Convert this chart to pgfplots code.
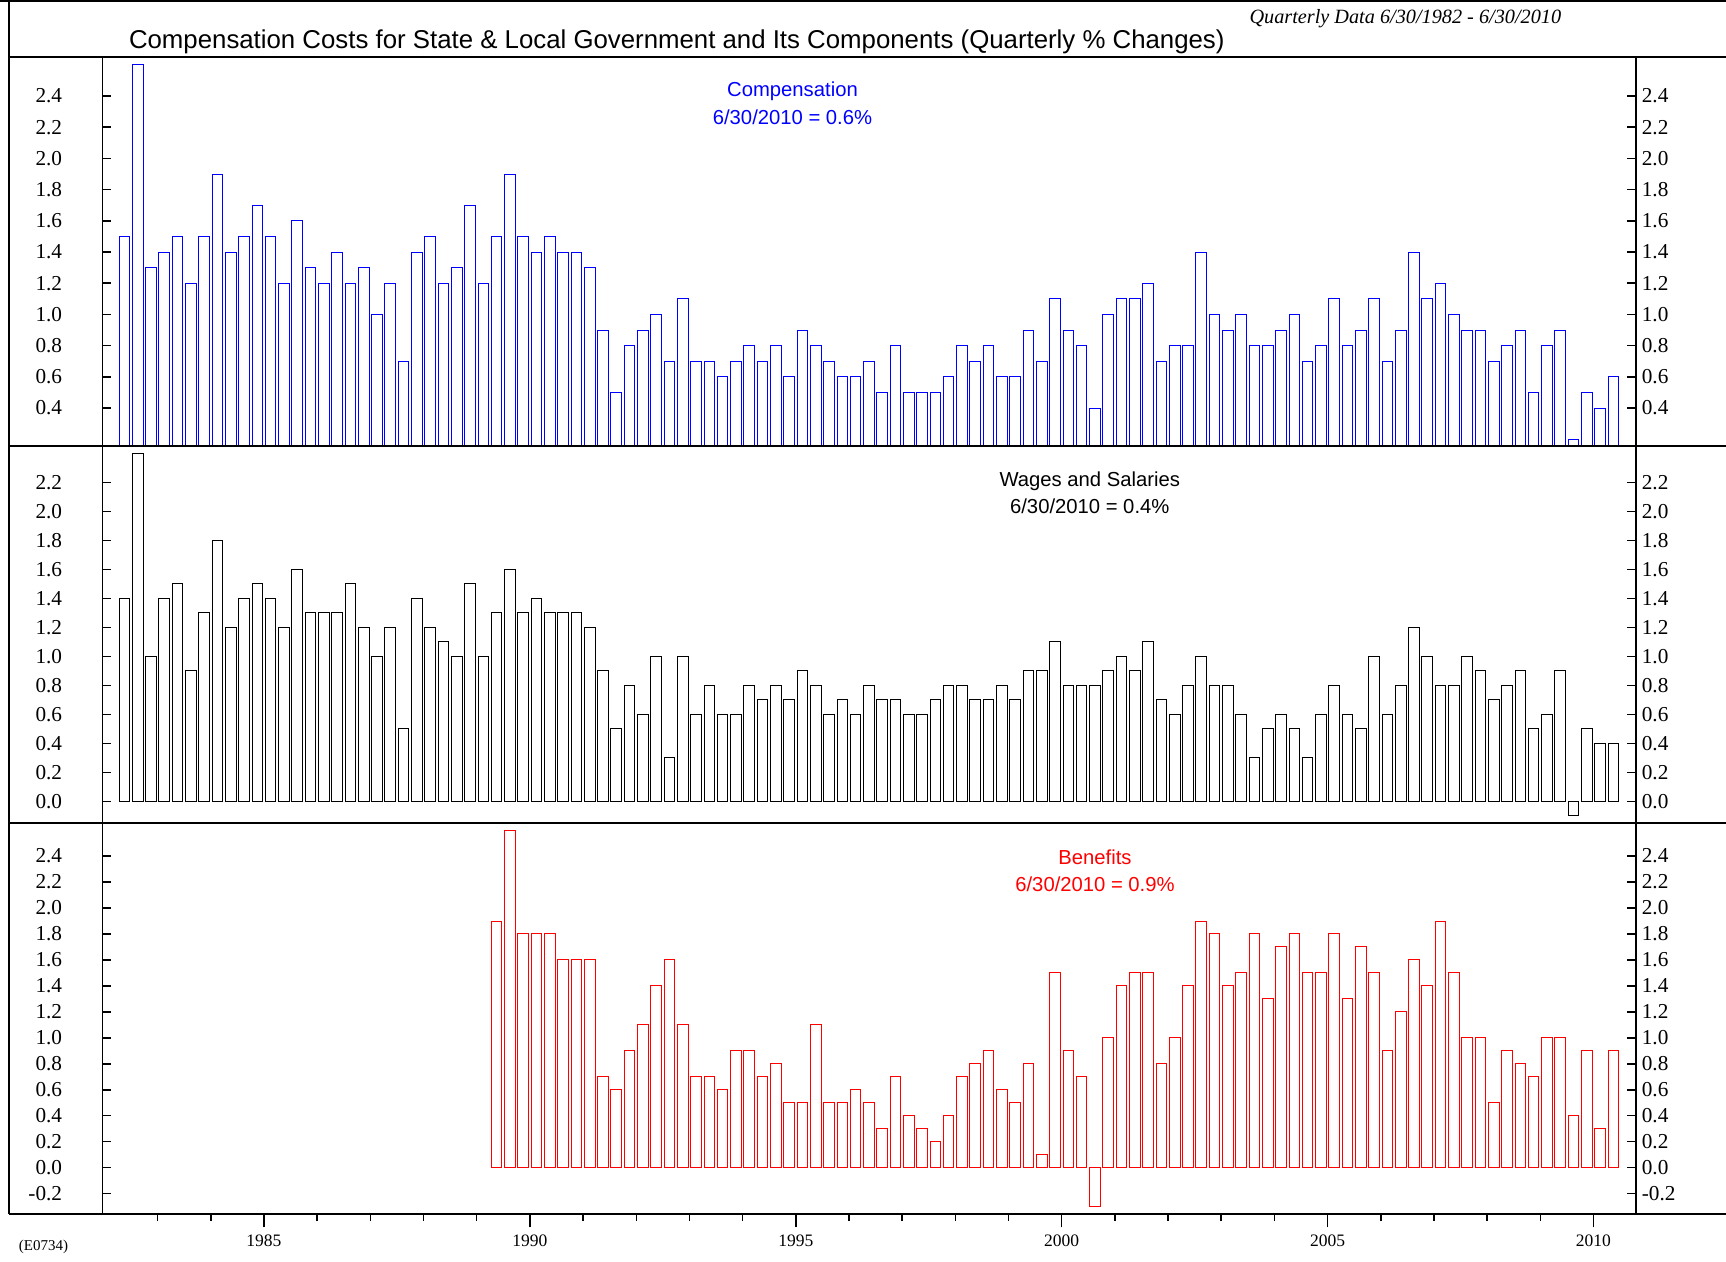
\documentclass[border=0pt]{standalone}
\usepackage{pgfplots}
\pgfplotsset{compat=1.18}
\usepackage{pgfplotstable}
\usepackage{fontspec}
\setmainfont{Liberation Serif}
\newfontfamily\arial{Liberation Sans}

% Compensation, quarterly % change, 6/30/1982 ... 6/30/2010 (113 quarters)
\pgfplotstableread[row sep=\\]{
v\\
1.5\\2.6\\1.3\\1.4\\1.5\\1.2\\1.5\\1.9\\1.4\\1.5\\
1.7\\1.5\\1.2\\1.6\\1.3\\1.2\\1.4\\1.2\\1.3\\1.0\\
1.2\\0.7\\1.4\\1.5\\1.2\\1.3\\1.7\\1.2\\1.5\\1.9\\
1.5\\1.4\\1.5\\1.4\\1.4\\1.3\\0.9\\0.5\\0.8\\0.9\\
1.0\\0.7\\1.1\\0.7\\0.7\\0.6\\0.7\\0.8\\0.7\\0.8\\
0.6\\0.9\\0.8\\0.7\\0.6\\0.6\\0.7\\0.5\\0.8\\0.5\\
0.5\\0.5\\0.6\\0.8\\0.7\\0.8\\0.6\\0.6\\0.9\\0.7\\
1.1\\0.9\\0.8\\0.4\\1.0\\1.1\\1.1\\1.2\\0.7\\0.8\\
0.8\\1.4\\1.0\\0.9\\1.0\\0.8\\0.8\\0.9\\1.0\\0.7\\
0.8\\1.1\\0.8\\0.9\\1.1\\0.7\\0.9\\1.4\\1.1\\1.2\\
1.0\\0.9\\0.9\\0.7\\0.8\\0.9\\0.5\\0.8\\0.9\\0.2\\
0.5\\0.4\\0.6\\
}\comp

% Wages and Salaries
\pgfplotstableread[row sep=\\]{
v\\
1.4\\2.4\\1.0\\1.4\\1.5\\0.9\\1.3\\1.8\\1.2\\1.4\\
1.5\\1.4\\1.2\\1.6\\1.3\\1.3\\1.3\\1.5\\1.2\\1.0\\
1.2\\0.5\\1.4\\1.2\\1.1\\1.0\\1.5\\1.0\\1.3\\1.6\\
1.3\\1.4\\1.3\\1.3\\1.3\\1.2\\0.9\\0.5\\0.8\\0.6\\
1.0\\0.3\\1.0\\0.6\\0.8\\0.6\\0.6\\0.8\\0.7\\0.8\\
0.7\\0.9\\0.8\\0.6\\0.7\\0.6\\0.8\\0.7\\0.7\\0.6\\
0.6\\0.7\\0.8\\0.8\\0.7\\0.7\\0.8\\0.7\\0.9\\0.9\\
1.1\\0.8\\0.8\\0.8\\0.9\\1.0\\0.9\\1.1\\0.7\\0.6\\
0.8\\1.0\\0.8\\0.8\\0.6\\0.3\\0.5\\0.6\\0.5\\0.3\\
0.6\\0.8\\0.6\\0.5\\1.0\\0.6\\0.8\\1.2\\1.0\\0.8\\
0.8\\1.0\\0.9\\0.7\\0.8\\0.9\\0.5\\0.6\\0.9\\-0.1\\
0.5\\0.4\\0.4\\
}\wage

% Benefits, from 6/30/1989 (quarter index 28)
\pgfplotstableread[row sep=\\]{
v\\
1.9\\2.6\\1.8\\1.8\\1.8\\1.6\\1.6\\1.6\\0.7\\0.6\\
0.9\\1.1\\1.4\\1.6\\1.1\\0.7\\0.7\\0.6\\0.9\\0.9\\
0.7\\0.8\\0.5\\0.5\\1.1\\0.5\\0.5\\0.6\\0.5\\0.3\\
0.7\\0.4\\0.3\\0.2\\0.4\\0.7\\0.8\\0.9\\0.6\\0.5\\
0.8\\0.1\\1.5\\0.9\\0.7\\-0.3\\1.0\\1.4\\1.5\\1.5\\
0.8\\1.0\\1.4\\1.9\\1.8\\1.4\\1.5\\1.8\\1.3\\1.7\\
1.8\\1.5\\1.5\\1.8\\1.3\\1.7\\1.5\\0.9\\1.2\\1.6\\
1.4\\1.9\\1.5\\1.0\\1.0\\0.5\\0.9\\0.8\\0.7\\1.0\\
1.0\\0.4\\0.9\\0.3\\0.9\\
}\bene

\pgfplotsset{
  panel/.style={
    scale only axis, width=613.44pt,
    xmin=-1.655, xmax=113.70,
    xtick=\empty,
    axis line style={line width=0.7pt},
    tick style={line width=0.6pt, black},
    tick align=inside, major tick length=3.6pt,
    ytick pos=both, yticklabel pos=left,
    yticklabel style={font=\fontsize{8.5}{10}\selectfont, xshift=-12.6pt},
    /pgf/number format/fixed, /pgf/number format/fixed zerofill,
    /pgf/number format/precision=1, /pgf/number format/assume math mode=true,
  },
  rlab/.style={
    scale only axis, width=613.44pt,
    xmin=-1.655, xmax=113.70,
    xtick=\empty,
    axis line style={draw=none},
    major tick length=0pt,
    ytick pos=right, yticklabel pos=right,
    yticklabel style={font=\fontsize{8.5}{10}\selectfont, xshift=-1.2pt},
    /pgf/number format/fixed, /pgf/number format/fixed zerofill,
    /pgf/number format/precision=1, /pgf/number format/assume math mode=true,
  },
  bars/.style={ybar, bar width=0.8, fill=white, line width=0.4pt},
}

\begin{document}
\begin{tikzpicture}
\useasboundingbox (0pt,0pt) rectangle (690.4pt,-504.8pt);

% ---- top panel: Compensation
\begin{axis}[panel, at={(40.96pt,-178.4pt)}, anchor=south west, height=155.6pt,
  ymin=0.157, ymax=2.65, ytick={0.4,0.6,...,2.41}]
  \addplot[bars, draw=blue] table[x expr=\coordindex, y=v]{\comp};
\end{axis}
\begin{axis}[rlab, at={(40.96pt,-178.4pt)}, anchor=south west, height=155.6pt,
  ymin=0.157, ymax=2.65, ytick={0.4,0.6,...,2.41}]
\end{axis}

% ---- middle panel: Wages and Salaries
\begin{axis}[panel, at={(40.96pt,-329.2pt)}, anchor=south west, height=150.8pt,
  ymin=-0.15, ymax=2.45, ytick={0,0.2,...,2.21}]
  \addplot[bars, draw=black] table[x expr=\coordindex, y=v]{\wage};
\end{axis}
\begin{axis}[rlab, at={(40.96pt,-329.2pt)}, anchor=south west, height=150.8pt,
  ymin=-0.15, ymax=2.45, ytick={0,0.2,...,2.21}]
\end{axis}

% ---- bottom panel: Benefits
\begin{axis}[panel, at={(40.96pt,-485.6pt)}, anchor=south west, height=156.4pt,
  ymin=-0.357, ymax=2.655, ytick={-0.2,0,0.2,...,2.41}]
  \addplot[bars, draw=red] table[x expr=\coordindex+28, y=v]{\bene};
\end{axis}
\begin{axis}[rlab, at={(40.96pt,-485.6pt)}, anchor=south west, height=156.4pt,
  ymin=-0.357, ymax=2.655, ytick={-0.2,0,0.2,...,2.41}]
\end{axis}
% x ticks (years) under the bottom panel
\begin{axis}[scale only axis, width=613.44pt, height=156.4pt,
  at={(40.96pt,-485.6pt)}, anchor=south west,
  xmin=-1.655, xmax=113.70, ymin=-0.357, ymax=2.655,
  ytick=\empty, axis line style={draw=none},
  xtick={10.5,30.5,50.5,70.5,90.5,110.5},
  xticklabels={1985,1990,1995,2000,2005,2010},
  minor xtick={2.5,6.5,...,110.6},
  xtick pos=bottom, tick align=outside,
  major tick length=5.3pt, minor tick length=2.6pt,
  tick style={line width=0.6pt, black},
  xticklabel style={font=\fontsize{7}{8}\selectfont, yshift=0.4pt},
]
\end{axis}

% ---- frame lines
\draw[line width=0.8pt] (0pt,-0.4pt) -- (690.4pt,-0.4pt);
\draw[line width=0.8pt] (3.6pt,0pt) -- (3.6pt,-485.6pt);
\draw[line width=0.9pt] (3.6pt,-22.8pt) -- (690.4pt,-22.8pt);
\draw[line width=0.9pt] (3.6pt,-178.4pt) -- (690.4pt,-178.4pt);
\draw[line width=0.9pt] (3.6pt,-329.2pt) -- (690.4pt,-329.2pt);
\draw[line width=0.9pt] (3.6pt,-485.6pt) -- (690.4pt,-485.6pt);

% ---- texts
\node[anchor=base west, inner sep=0pt, font=\arial\fontsize{10.32}{12}\selectfont]
  at (51.4pt,-19.4pt) {Compensation Costs for State \& Local Government and Its Components (Quarterly \% Changes)};
\node[anchor=base west, inner sep=0pt, font=\itshape\fontsize{8.1}{9.7}\selectfont]
  at (499.6pt,-9.6pt) {Quarterly Data 6/30/1982 - 6/30/2010};

\node[anchor=base, inner sep=0pt, text=blue, font=\arial\fontsize{8.1}{9.7}\selectfont] at (317pt,-38.8pt) {Compensation};
\node[anchor=base, inner sep=0pt, text=blue, font=\arial\fontsize{8.1}{9.7}\selectfont] at (317pt,-49.8pt) {6/30/2010 = 0.6\%};

\node[anchor=base, inner sep=0pt, font=\arial\fontsize{8.1}{9.7}\selectfont] at (435.9pt,-194.6pt) {Wages and Salaries};
\node[anchor=base, inner sep=0pt, font=\arial\fontsize{8.1}{9.7}\selectfont] at (435.9pt,-205.6pt) {6/30/2010 = 0.4\%};

\node[anchor=base, inner sep=0pt, text=red, font=\arial\fontsize{8.1}{9.7}\selectfont] at (438pt,-345.6pt) {Benefits};
\node[anchor=base, inner sep=0pt, text=red, font=\arial\fontsize{8.1}{9.7}\selectfont] at (438pt,-356.6pt) {6/30/2010 = 0.9\%};

\node[inner sep=0pt, font=\fontsize{6}{7}\selectfont] at (17.4pt,-498.8pt) {(E0734)};
\end{tikzpicture}
\end{document}
